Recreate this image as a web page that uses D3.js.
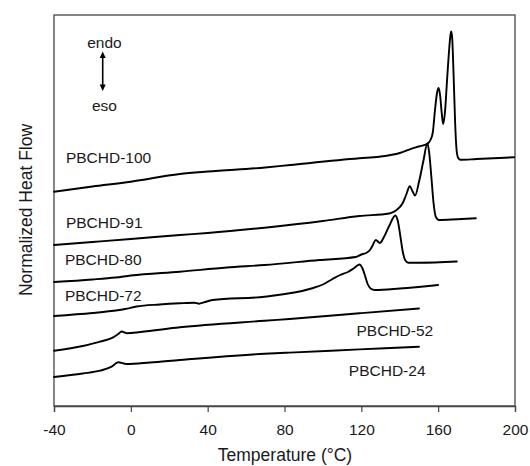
<!DOCTYPE html>
<html>
<head>
<meta charset="utf-8">
<script src="https://cdn.jsdelivr.net/npm/d3@7"></script>
<style>
  html, body { margin: 0; padding: 0; background: #fff; }
  svg { display: block; }
  text { font-family: "Liberation Sans", Arial, Helvetica, sans-serif; fill: #1a1a1a; }
</style>
</head>
<body>
<svg id="chart" width="530" height="466"></svg>
<script>
// ---- data (temperature °C, normalized heat flow in arbitrary units) ----
const xTicks = [-40, 0, 40, 80, 120, 160, 200];
const xTickLabels = ["-40", "0", "40", "80", "120", "160", "200"];
const seriesNames = ["PBCHD-100", "PBCHD-91", "PBCHD-80", "PBCHD-72", "PBCHD-52", "PBCHD-24"];

const pb100 = [[-40,214.3],[-20,219.5],[0,224.3],[25.5,232],[40,234.5],[70,238.5],[83,241],[119,247.7],[129.4,249.3],[140,253],[146.6,257.7],[150,259.5],[154.4,262.3],[156,266],[157.2,273.5],[158.4,297],[159.4,313],[160.2,318],[161,311],[161.8,294],[162.6,282],[163.5,293],[164.6,325],[165.7,356],[166.4,371],[166.8,374.5],[167.3,368],[168,333],[168.8,285],[169.5,258],[170.3,248.5],[171.5,246.2],[180,247],[199.5,248.7]];

const pb91 = [[-40,161],[-20,164],[0,167],[25.5,171],[40,173],[69.6,178.3],[100,185],[119,190],[134.5,192.5],[138,195.5],[141.5,202.7],[143.5,212],[145.2,219.8],[146.6,215],[148,210.5],[150,224],[152.3,245],[154.4,262.7],[155.4,252],[156.5,228],[157.6,203],[158.8,189],[160.3,186],[170,186.8],[179.6,187.7]];

const pb80 = [[-40,124],[-20,126.5],[-8,128.5],[0,130.5],[25.5,134.3],[50,138.5],[69.6,141],[98.2,146],[117,149],[120,151.5],[122.5,153],[124.5,156],[126,161],[127.5,166],[129.7,163],[131.5,168],[134.5,180],[137.7,190.5],[139,185],[140.3,170],[141.5,155],[142.8,146],[144.5,143.3],[150,143.3],[169.7,144.5]];

const pb72 = [[-40,90],[-20,93],[-10,95],[-3,97],[3,99.5],[15,101.5],[25.5,102.7],[33,103.3],[35.5,102.3],[38,103.6],[42.6,106],[69.6,109.3],[94,117.5],[100,121.5],[105,127],[109,131],[113,134],[116,137.5],[119,141.5],[120.5,138],[121.8,131],[123.3,122],[124.8,117.5],[127,116],[140,117.5],[160,121]];

const pb52 = [[-40,55.3],[-25,60],[-16,64.3],[-9.2,68.7],[-6.5,72],[-4.8,74.5],[-2,72.8],[5,74],[25.5,78.7],[69.6,85.2],[82.6,87],[119,92.7],[150,97.5]];

const pb24 = [[-40,29],[-25,32.5],[-16,35.3],[-10,39.3],[-6.6,43.7],[-2.2,42],[10,43.5],[25.5,46],[69.6,52.2],[82.6,53.4],[119,56.6],[150,59.3]];

const seriesData = [pb100, pb91, pb80, pb72, pb52, pb24];

// ---- layout ----
const W = 530, H = 466;
const margin = { left: 54, top: 15, right: 15, bottom: 60 };
const x = d3.scaleLinear().domain([-40, 200]).range([margin.left, W - margin.right]);
const y = d3.scaleLinear().domain([0, 391]).range([H - margin.bottom, margin.top]);

const svg = d3.select("#chart");

// frame
svg.append("rect")
  .attr("x", x(-40)).attr("y", y(391))
  .attr("width", x(200) - x(-40)).attr("height", y(0) - y(391))
  .attr("fill", "none").attr("stroke", "#444").attr("stroke-width", 1.3);

// bottom axis
const xAxis = d3.axisBottom(x).tickValues(xTicks).tickSize(6).tickPadding(12)
  .tickFormat((d, i) => xTickLabels[i]);
const gx = svg.append("g").attr("transform", `translate(0,${y(0)})`).call(xAxis);
gx.select(".domain").attr("stroke", "#444").attr("stroke-width", 1.3);
gx.selectAll(".tick line").attr("stroke", "#444").attr("stroke-width", 1.2);
gx.selectAll(".tick text").style("font-size", "15.5px").attr("fill", "#1a1a1a")
  .style("font-family", '"Liberation Sans", Arial, sans-serif');

// axis titles
svg.append("text").attr("x", 285).attr("y", 461).attr("text-anchor", "middle")
  .style("font-size", "17.5px").text("Temperature (°C)");
svg.append("text").attr("transform", "translate(32,210) rotate(-90)").attr("text-anchor", "middle")
  .style("font-size", "17.5px").text("Normalized Heat Flow");

// curves
const line = d3.line().x(d => x(d[0])).y(d => y(d[1])).curve(d3.curveMonotoneX);
svg.append("g").selectAll("path").data(seriesData).join("path")
  .attr("d", line).attr("fill", "none").attr("stroke", "#000")
  .attr("stroke-width", 1.9).attr("stroke-linejoin", "round").attr("stroke-linecap", "round");

// series labels (positions in data coordinates)
const labelPos = [[-33.8, 242.7], [-33.8, 177.7], [-34.3, 141], [-34.3, 105], [117.5, 70.3], [113.5, 30.3]];
svg.append("g").selectAll("text").data(seriesNames).join("text")
  .attr("x", (d, i) => x(labelPos[i][0])).attr("y", (d, i) => y(labelPos[i][1]))
  .style("font-size", "15.5px").text(d => d);

// endo / eso indicator
const ax = 102.7;
svg.append("text").attr("x", 104.5).attr("y", 48.3).attr("text-anchor", "middle").style("font-size", "15.5px").text("endo");
svg.append("text").attr("x", 104.5).attr("y", 111).attr("text-anchor", "middle").style("font-size", "15.5px").text("eso");
svg.append("line").attr("x1", ax).attr("x2", ax).attr("y1", 55).attr("y2", 87.5)
  .attr("stroke", "#000").attr("stroke-width", 1.6);
svg.append("path").attr("d", `M${ax},51.5 L${ax-3},58 L${ax+3},58 Z`).attr("fill", "#000");
svg.append("path").attr("d", `M${ax},91 L${ax-3},84.5 L${ax+3},84.5 Z`).attr("fill", "#000");
</script>
</body>
</html>
